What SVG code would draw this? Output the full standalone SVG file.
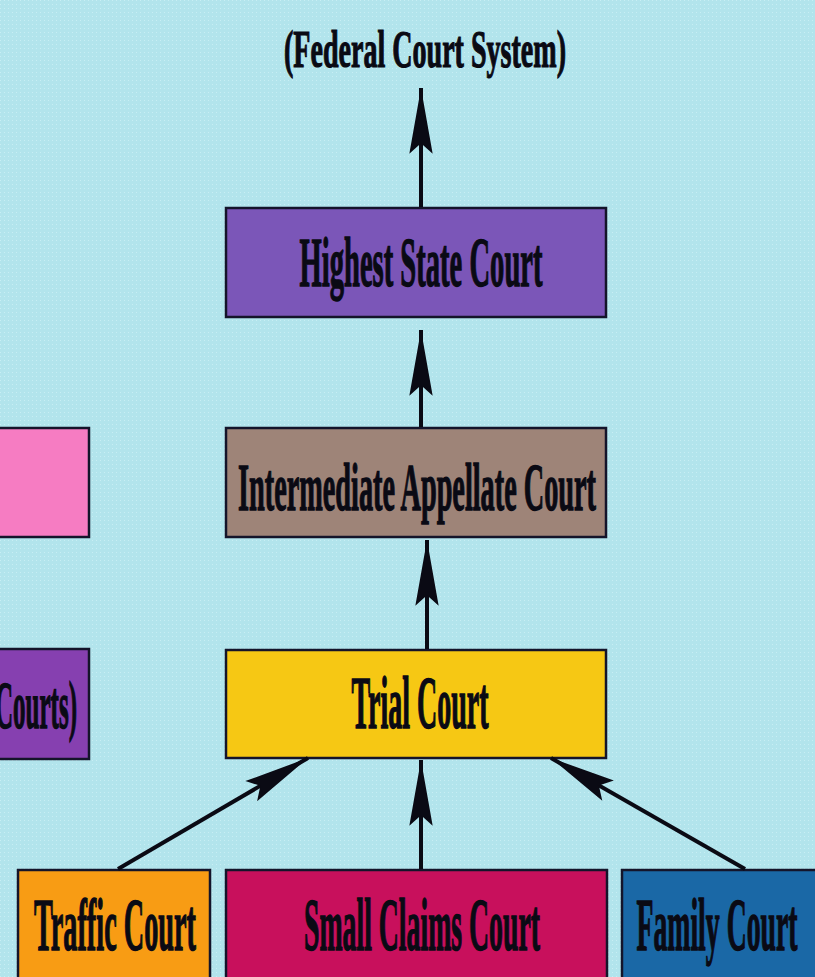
<svg xmlns="http://www.w3.org/2000/svg" width="815" height="977" viewBox="0 0 815 977">
<defs>
<style>
.box{stroke:#14142a;stroke-width:2.5}
.t{font-family:"Liberation Serif","Times New Roman",serif;font-weight:bold;fill:#0a0a14;stroke:#0a0a14;stroke-width:0.6}
.c{stroke:#0a0a14;stroke-width:4;fill:none}
</style>
<marker id="ah" markerUnits="userSpaceOnUse" markerWidth="70" markerHeight="30" viewBox="-64 -13 66 26" refX="0" refY="0" orient="auto">
<path d="M0,0 L-62,-11 L-52,0 L-62,11 Z" fill="#0a0a14"/>
</marker>
<pattern id="dots" width="4" height="4" patternUnits="userSpaceOnUse">
<rect width="4" height="4" fill="#b2e4ec"/>
<rect x="0" y="0" width="1" height="1" fill="#c8eef4"/>
</pattern>
</defs>
<rect width="815" height="977" fill="url(#dots)"/>

<g id="federal">
<text class="t" transform="translate(425,67) scale(1,2.05)" font-size="26" text-anchor="middle" textLength="282" lengthAdjust="spacingAndGlyphs">(Federal Court System)</text>
</g>

<g id="highest">
<rect class="box" x="226" y="208" width="380" height="109" fill="#7b56b8"/>
<text class="t" transform="translate(421,286) scale(1,2.3)" font-size="30" text-anchor="middle" textLength="243" lengthAdjust="spacingAndGlyphs">Highest State Court</text>
</g>

<g id="intermediate">
<rect class="box" x="226" y="428" width="380" height="109" fill="#9e8478"/>
<text class="t" transform="translate(417,510) scale(1,2.3)" font-size="29" text-anchor="middle" textLength="358" lengthAdjust="spacingAndGlyphs">Intermediate Appellate Court</text>
</g>

<g id="trial">
<rect class="box" x="226" y="650" width="380" height="108" fill="#f6c814"/>
<text class="t" transform="translate(420,728) scale(1,2.5)" font-size="30" text-anchor="middle" textLength="137" lengthAdjust="spacingAndGlyphs">Trial Court</text>
</g>

<g id="left-pink">
<rect class="box" x="-10" y="428" width="99" height="109" fill="#f67cc2"/>
</g>

<g id="left-purple">
<rect class="box" x="-10" y="649" width="99" height="110" fill="#8640b0"/>
<text class="t" transform="translate(77,728) scale(1,2.4)" font-size="28" text-anchor="end" textLength="82" lengthAdjust="spacingAndGlyphs">Courts)</text>
</g>

<g id="traffic">
<rect class="box" x="18" y="870" width="192" height="120" fill="#f89c14"/>
<text class="t" transform="translate(115,950) scale(1,2.5)" font-size="30" text-anchor="middle" textLength="162" lengthAdjust="spacingAndGlyphs">Traffic Court</text>
</g>

<g id="smallclaims">
<rect class="box" x="226" y="870" width="381" height="120" fill="#c8105c"/>
<text class="t" transform="translate(422,950) scale(1,2.5)" font-size="30" text-anchor="middle" textLength="236" lengthAdjust="spacingAndGlyphs">Small Claims Court</text>
</g>

<g id="family">
<rect class="box" x="622" y="870" width="205" height="120" fill="#1a68a6"/>
<text class="t" transform="translate(717,950) scale(1,2.5)" font-size="30" text-anchor="middle" textLength="161" lengthAdjust="spacingAndGlyphs">Family Court</text>
</g>

<g id="connectors">
<line class="c" x1="421" y1="207" x2="421" y2="88" marker-end="url(#ah)"/>
<line class="c" x1="421" y1="427" x2="421" y2="330" marker-end="url(#ah)"/>
<line class="c" x1="427" y1="649" x2="427" y2="540" marker-end="url(#ah)"/>
<line class="c" x1="421" y1="869" x2="421" y2="760" marker-end="url(#ah)"/>
<line class="c" x1="118" y1="869" x2="308" y2="758" marker-end="url(#ah)"/>
<line class="c" x1="745" y1="869" x2="551" y2="758" marker-end="url(#ah)"/>
</g>
</svg>
